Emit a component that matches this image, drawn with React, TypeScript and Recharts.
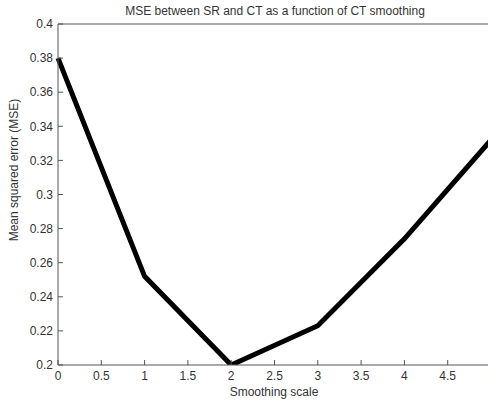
import React from 'react';
import { LineChart, Line, XAxis, YAxis, Label } from 'recharts';

const scales = [0, 1, 2, 3, 4, 5];
const mseValues = [0.38, 0.252, 0.2, 0.223, 0.274, 0.332];
const xTicks = [0, 0.5, 1, 1.5, 2, 2.5, 3, 3.5, 4, 4.5, 5];
const yTicks = [0.2, 0.22, 0.24, 0.26, 0.28, 0.3, 0.32, 0.34, 0.36, 0.38, 0.4];

const data = scales.map((s, i) => ({ scale: s, mse: mseValues[i] }));

const font = '"Liberation Sans", Arial, sans-serif';
const textColor = '#333';
const axisColor = '#555';
const tickFont = { fontSize: 12, fill: textColor, fontFamily: font };

export default function App() {
  return (
    <div style={{ position: 'absolute', left: 0, top: 0, width: 488, height: 402, overflow: 'hidden', background: '#fff' }}>
      <LineChart width={500} height={402} data={data} margin={{ top: 23, right: 8, bottom: 0, left: 0 }}>
        <XAxis
          dataKey="scale"
          type="number"
          domain={[0, 5]}
          ticks={xTicks}
          height={37}
          tickSize={-5}
          tickMargin={11}
          tick={tickFont}
          stroke={axisColor}
          interval={0}
        >
          <Label
            content={() => (
              <text x={274} y={392} textAnchor="middle" dominantBaseline="central" fontSize={12} fill={textColor} fontFamily={font}>
                Smoothing scale
              </text>
            )}
          />
        </XAxis>
        <XAxis
          xAxisId="top"
          orientation="top"
          dataKey="scale"
          type="number"
          domain={[0, 5]}
          ticks={xTicks}
          height={1}
          tickSize={-5}
          tick={false}
          stroke={axisColor}
          interval={0}
        >
          <Label
            content={() => (
              <text x={275} y={11} textAnchor="middle" dominantBaseline="central" fontSize={12} fill={textColor} fontFamily={font}>
                MSE between SR and CT as a function of CT smoothing
              </text>
            )}
          />
        </XAxis>
        <YAxis
          type="number"
          domain={[0.2, 0.4]}
          ticks={yTicks}
          width={58}
          tickSize={-5}
          tickMargin={10}
          tick={tickFont}
          stroke={axisColor}
          interval={0}
          allowDataOverflow
        >
          <Label
            content={() => (
              <text
                x={14}
                y={170}
                transform="rotate(-90 14 170)"
                textAnchor="middle"
                dominantBaseline="central"
                fontSize={12}
                fill={textColor}
                fontFamily={font}
              >
                Mean squared error (MSE)
              </text>
            )}
          />
        </YAxis>
        <YAxis
          yAxisId="right"
          orientation="right"
          type="number"
          domain={[0.2, 0.4]}
          ticks={yTicks}
          width={1}
          tickSize={-5}
          tick={false}
          stroke={axisColor}
          interval={0}
        />
        <Line
          type="linear"
          dataKey="mse"
          stroke="#000"
          strokeWidth={5}
          dot={false}
          isAnimationActive={false}
        />
      </LineChart>
    </div>
  );
}
